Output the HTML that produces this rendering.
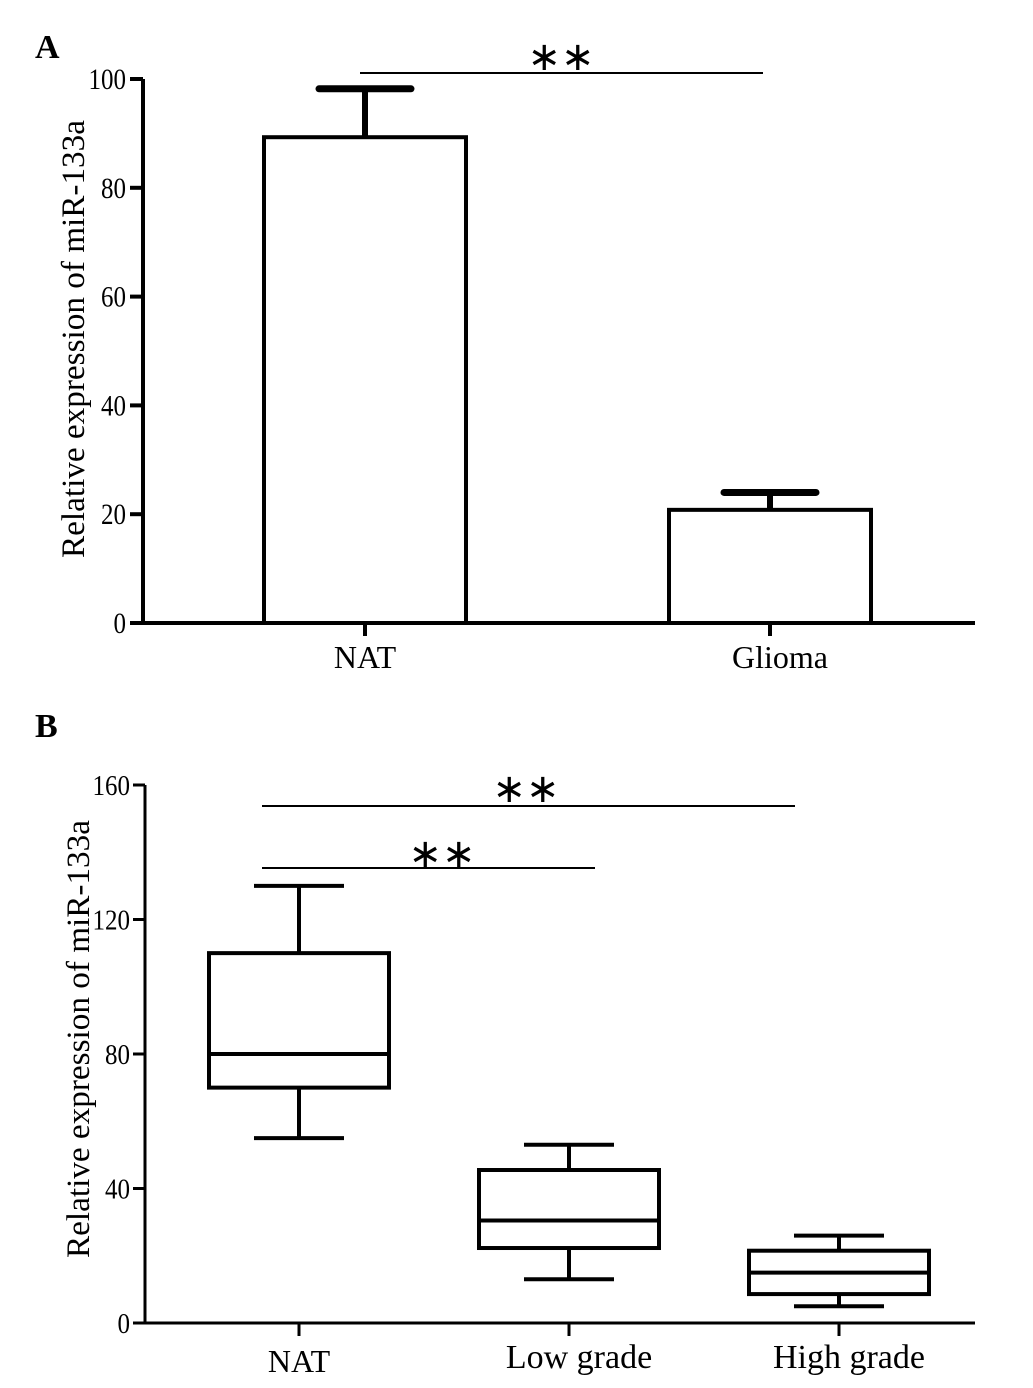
<!DOCTYPE html>
<html><head><meta charset="utf-8"><style>
body{margin:0;background:#fff}
svg{display:block;font-family:"Liberation Serif",serif}
</style></head><body>
<svg id="c" width="1033" height="1388" viewBox="0 0 1033 1388">
<text x="35" y="58" font-size="34" font-weight="bold">A</text>
<text x="35" y="737" font-size="34" font-weight="bold">B</text>
<g id="A"></g>
<g id="B"></g>
</svg>
<script>
const barCats=["NAT","Glioma"];
const barMeans=[89.3,20.8];
const barErr=[8.9,3.2];
const aTicks=[0,20,40,60,80,100];
const boxCats=["NAT","Low grade","High grade"];
const boxMin=[55,13,5];
const boxQ1=[70,22.3,8.6];
const boxMed=[80,30.5,15];
const boxQ3=[110,45.5,21.5];
const boxMax=[130,53,26];
const bTicks=[0,40,80,120,160];
const NS="http://www.w3.org/2000/svg";
function mk(p,t,a,txt){const e=document.createElementNS(NS,t);for(const k in a)e.setAttribute(k,a[k]);if(txt!==undefined)e.textContent=txt;p.appendChild(e);return e;}
// Panel A
const gA=document.getElementById('A');
const yA=v=>623-v*5.44;
const xA=i=>365+i*405;
let e=mk(gA,'path',{d:`M143 ${yA(100)} V623 H975`,stroke:'#000','stroke-width':4,fill:'none'});

aTicks.forEach(t=>{
 e=mk(gA,'line',{x1:130,x2:143,y1:yA(t),y2:yA(t),stroke:'#000','stroke-width':4});
 
 const s=String(t);
 e=mk(gA,'text',{x:126,y:yA(t)+10,'font-size':30,'text-anchor':'end',textLength:s.length*12.5,lengthAdjust:'spacingAndGlyphs'},s);
 
});
barCats.forEach((c,i)=>{
 const x=xA(i);
 e=mk(gA,'line',{x1:x,x2:x,y1:yA(barMeans[i]),y2:yA(barMeans[i]+barErr[i]),stroke:'#000','stroke-width':6});
 
 e=mk(gA,'line',{x1:x-46,x2:x+46,y1:yA(barMeans[i]+barErr[i]),y2:yA(barMeans[i]+barErr[i]),stroke:'#000','stroke-width':7,'stroke-linecap':'round'});
 
 e=mk(gA,'rect',{x:x-101,y:yA(barMeans[i]),width:202,height:623-yA(barMeans[i]),fill:'#fff',stroke:'#000','stroke-width':4});
 
 e=mk(gA,'line',{x1:x,x2:x,y1:623,y2:636,stroke:'#000','stroke-width':4});
 
 e=mk(gA,'text',{x:x+(i?10:0),y:668,'font-size':32,'text-anchor':'middle'},c);
 
});
e=mk(gA,'line',{x1:360,x2:763,y1:73,y2:73,stroke:'#000','stroke-width':2});

e=mk(gA,'text',{x:561,y:70,'font-size':40,'text-anchor':'middle'},'∗∗');

e=mk(gA,'text',{x:0,y:0,'font-size':33,'text-anchor':'middle',textLength:438,lengthAdjust:'spacingAndGlyphs',transform:'translate(84,339) rotate(-90)'},'Relative expression of miR-133a');

// Panel B
const gB=document.getElementById('B');
const yB=v=>1323-v*3.3625;
const xB=i=>299+i*270;
e=mk(gB,'path',{d:`M145 ${yB(160)} V1323 H975`,stroke:'#000','stroke-width':3,fill:'none'});

bTicks.forEach(t=>{
 e=mk(gB,'line',{x1:133,x2:145,y1:yB(t),y2:yB(t),stroke:'#000','stroke-width':3});
 
 const s=String(t);
 e=mk(gB,'text',{x:130,y:yB(t)+10,'font-size':29,'text-anchor':'end',textLength:s.length*12.5,lengthAdjust:'spacingAndGlyphs'},s);
 
});
boxCats.forEach((c,i)=>{
 const x=xB(i);
 e=mk(gB,'path',{d:`M${x} ${yB(boxMax[i])} V${yB(boxQ3[i])} M${x} ${yB(boxQ1[i])} V${yB(boxMin[i])} M${x-45} ${yB(boxMax[i])} H${x+45} M${x-45} ${yB(boxMin[i])} H${x+45}`,stroke:'#000','stroke-width':4,fill:'none'});
 
 e=mk(gB,'rect',{x:x-90,y:yB(boxQ3[i]),width:180,height:yB(boxQ1[i])-yB(boxQ3[i]),fill:'#fff',stroke:'#000','stroke-width':4});
 
 e=mk(gB,'line',{x1:x-90,x2:x+90,y1:yB(boxMed[i]),y2:yB(boxMed[i]),stroke:'#000','stroke-width':4});
 
 e=mk(gB,'line',{x1:x,x2:x,y1:1323,y2:1336,stroke:'#000','stroke-width':3});
 
 e=mk(gB,'text',{x:x+(i?10:0),y:i?1368:1372,'font-size':i?34:32,'text-anchor':'middle'},c);
 
});
e=mk(gB,'line',{x1:262,x2:795,y1:806,y2:806,stroke:'#000','stroke-width':2});

e=mk(gB,'text',{x:526,y:802,'font-size':40,'text-anchor':'middle'},'∗∗');

e=mk(gB,'line',{x1:262,x2:595,y1:868,y2:868,stroke:'#000','stroke-width':2});

e=mk(gB,'text',{x:442,y:867,'font-size':40,'text-anchor':'middle'},'∗∗');

e=mk(gB,'text',{x:0,y:0,'font-size':33,'text-anchor':'middle',textLength:438,lengthAdjust:'spacingAndGlyphs',transform:'translate(89,1039) rotate(-90)'},'Relative expression of miR-133a');

</script>
</body></html>
